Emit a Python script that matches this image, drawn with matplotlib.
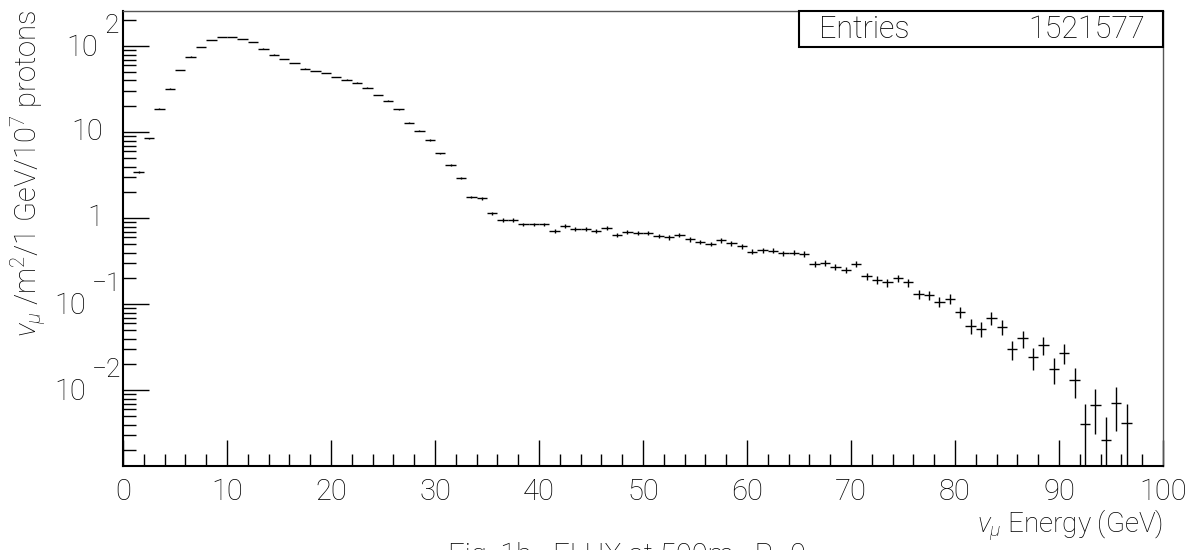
import numpy as np
import matplotlib
matplotlib.use("Agg")
import matplotlib.pyplot as plt
from matplotlib.ticker import FixedLocator, MultipleLocator, NullFormatter
from matplotlib.transforms import blended_transform_factory, offset_copy
from matplotlib.patches import Rectangle

# nu_mu flux per 1 GeV bin (0-100 GeV), per m^2 per 1e7 protons
bin_edges = np.arange(0, 101, 1)
flux = np.array([
    0.0, 3.43, 8.51, 18.8, 32.1, 52.6, 75.7, 97.4, 117.4, 129.3,
    129.3, 122.6, 111.3, 93.8, 79.9, 71.2, 63.4, 54.9, 51.6, 48.9,
    44.0, 40.9, 37.9, 33.0, 27.1, 23.3, 18.5, 12.9, 10.4, 8.13,
    5.70, 4.20, 2.97, 1.78, 1.71, 1.15, 0.955, 0.955, 0.851, 0.851,
    0.851, 0.712, 0.820, 0.751, 0.745, 0.712, 0.765, 0.634, 0.688, 0.681,
    0.670, 0.628, 0.601, 0.645, 0.567, 0.530, 0.502, 0.555, 0.512, 0.476,
    0.409, 0.425, 0.420, 0.392, 0.398, 0.385, 0.292, 0.302, 0.274, 0.251,
    0.292, 0.213, 0.192, 0.180, 0.200, 0.180, 0.1306, 0.128, 0.1064, 0.116,
    0.0813, 0.0560, 0.0520, 0.0698, 0.0549, 0.0300, 0.0403, 0.0242, 0.0336, 0.0177,
    0.0274, 0.0132, 0.00406, 0.00675, 0.00262, 0.00718, 0.00413, 0.0, 0.0, 0.0,
])
entry_weight = 0.002   # flux carried by one MC entry (Poisson errors)
entries_label = "1521577"

x_ticks_major = [0, 10, 20, 30, 40, 50, 60, 70, 80, 90, 100]
y_ticks_major = [1e-2, 1e-1, 1, 10, 100]
y_tick_base = ["10", "10", "1", "10", "10"]
y_tick_exp = ["\u22122", "\u22121", "", "", "2"]

FONT = ["Roboto", "DejaVu Sans"]
plt.rcParams["font.family"] = FONT
plt.rcParams["font.weight"] = "light"
plt.rcParams["mathtext.fontset"] = "custom"
plt.rcParams["mathtext.rm"] = "Roboto:weight=light"
plt.rcParams["mathtext.it"] = "Roboto:style=italic:weight=light"
plt.rcParams["mathtext.default"] = "regular"

W, H = 1199, 550
fig = plt.figure(figsize=(W / 100, H / 100), dpi=100)
ax_l, ax_r, ax_t, ax_b = 123, 1163, 11, 466
ax = fig.add_axes([ax_l / W, 1 - ax_b / H, (ax_r - ax_l) / W, (ax_b - ax_t) / H])

centers = 0.5 * (bin_edges[:-1] + bin_edges[1:])
half_w = 0.5 * np.diff(bin_edges)
filled = flux > 0
err = np.sqrt(flux * entry_weight)
lo = np.minimum(err, flux * (1 - 1e-6))
ax.errorbar(centers[filled], flux[filled], xerr=half_w[filled],
            yerr=[lo[filled], err[filled]], fmt="none", ecolor="black",
            elinewidth=1.0, capsize=0)

ax.set_yscale("log")
ax.set_xlim(0, 100)
ax.set_ylim(10 ** -2.88, 10 ** 2.41)

ax.xaxis.set_major_locator(FixedLocator(x_ticks_major))
ax.xaxis.set_minor_locator(MultipleLocator(2))
ax.yaxis.set_major_locator(FixedLocator(y_ticks_major))
minor_y = [m * 10.0 ** e for e in range(-3, 3) for m in range(2, 10)]
ax.yaxis.set_minor_locator(FixedLocator(minor_y))
ax.yaxis.set_minor_formatter(NullFormatter())
ax.tick_params(axis="both", which="both", direction="in", top=False, right=False,
               color="black", width=1.0)
ax.tick_params(axis="both", which="major", length=19)
ax.tick_params(axis="both", which="minor", length=9)
ax.tick_params(axis="y", labelleft=False)
ax.tick_params(axis="x", labelsize=21, pad=9, labelcolor="black")

for side in ("left", "bottom"):
    ax.spines[side].set_linewidth(1.5)
    ax.spines[side].set_color("black")
for side in ("top", "right"):
    ax.spines[side].set_linewidth(1.0)
    ax.spines[side].set_color("#555555")

# y tick labels: base and raised exponent
ytr = blended_transform_factory(ax.transAxes, ax.transData)
for val, base, ex in zip(y_ticks_major, y_tick_base, y_tick_exp):
    if ex:
        neg = ex.startswith("\u2212")
        tb = offset_copy(ytr, fig=fig, x=-(37 if neg else 25), y=-2, units="dots")
        ax.text(0, val, base, transform=tb, ha="right", va="center", fontsize=21)
        te = offset_copy(ytr, fig=fig, x=-(31 if neg else 19), y=8, units="dots")
        ax.text(0, val, ex, transform=te, ha="left", va="bottom", fontsize=19)
    else:
        tb = offset_copy(ytr, fig=fig, x=-20, y=0, units="dots")
        ax.text(0, val, base, transform=tb, ha="right", va="center", fontsize=21)

# statistics box
bx0 = (799 - ax_l) / (ax_r - ax_l)
by0 = (ax_b - 47) / (ax_b - ax_t)
ax.add_patch(Rectangle((bx0, by0), 1 - bx0, 1 - by0, transform=ax.transAxes,
                       facecolor="white", edgecolor="black", linewidth=1.5,
                       clip_on=False, zorder=5))
ty = (ax_b - 29) / (ax_b - ax_t)
ax.text((819 - ax_l) / (ax_r - ax_l), ty, "Entries", transform=ax.transAxes,
        ha="left", va="center", fontsize=22, zorder=6)
ax.text((1145 - ax_l) / (ax_r - ax_l), ty, entries_label, transform=ax.transAxes,
        ha="right", va="center", fontsize=22, zorder=6)

# axis titles
fig.text(ax_r / W, 1 - 525 / H, r"$\mathit{\nu}_{\mathit{\mu}}$ Energy (GeV)",
         ha="right", va="center", fontsize=20)
fig.text(28 / W, 1 - 10 / H,
         r"$\mathit{\nu}_{\mathit{\mu}}$ /m$^{2}$/1 GeV/10$^{7}$ protons",
         rotation=90, ha="center", va="top", fontsize=21)

# figure caption
fig.text(448 / W, 1 - 542 / H, "Fig. 1b   FLUX at 500m   R=0", ha="left", va="top",
         fontsize=21)

fig.savefig("out.png", dpi=100, facecolor="white")
